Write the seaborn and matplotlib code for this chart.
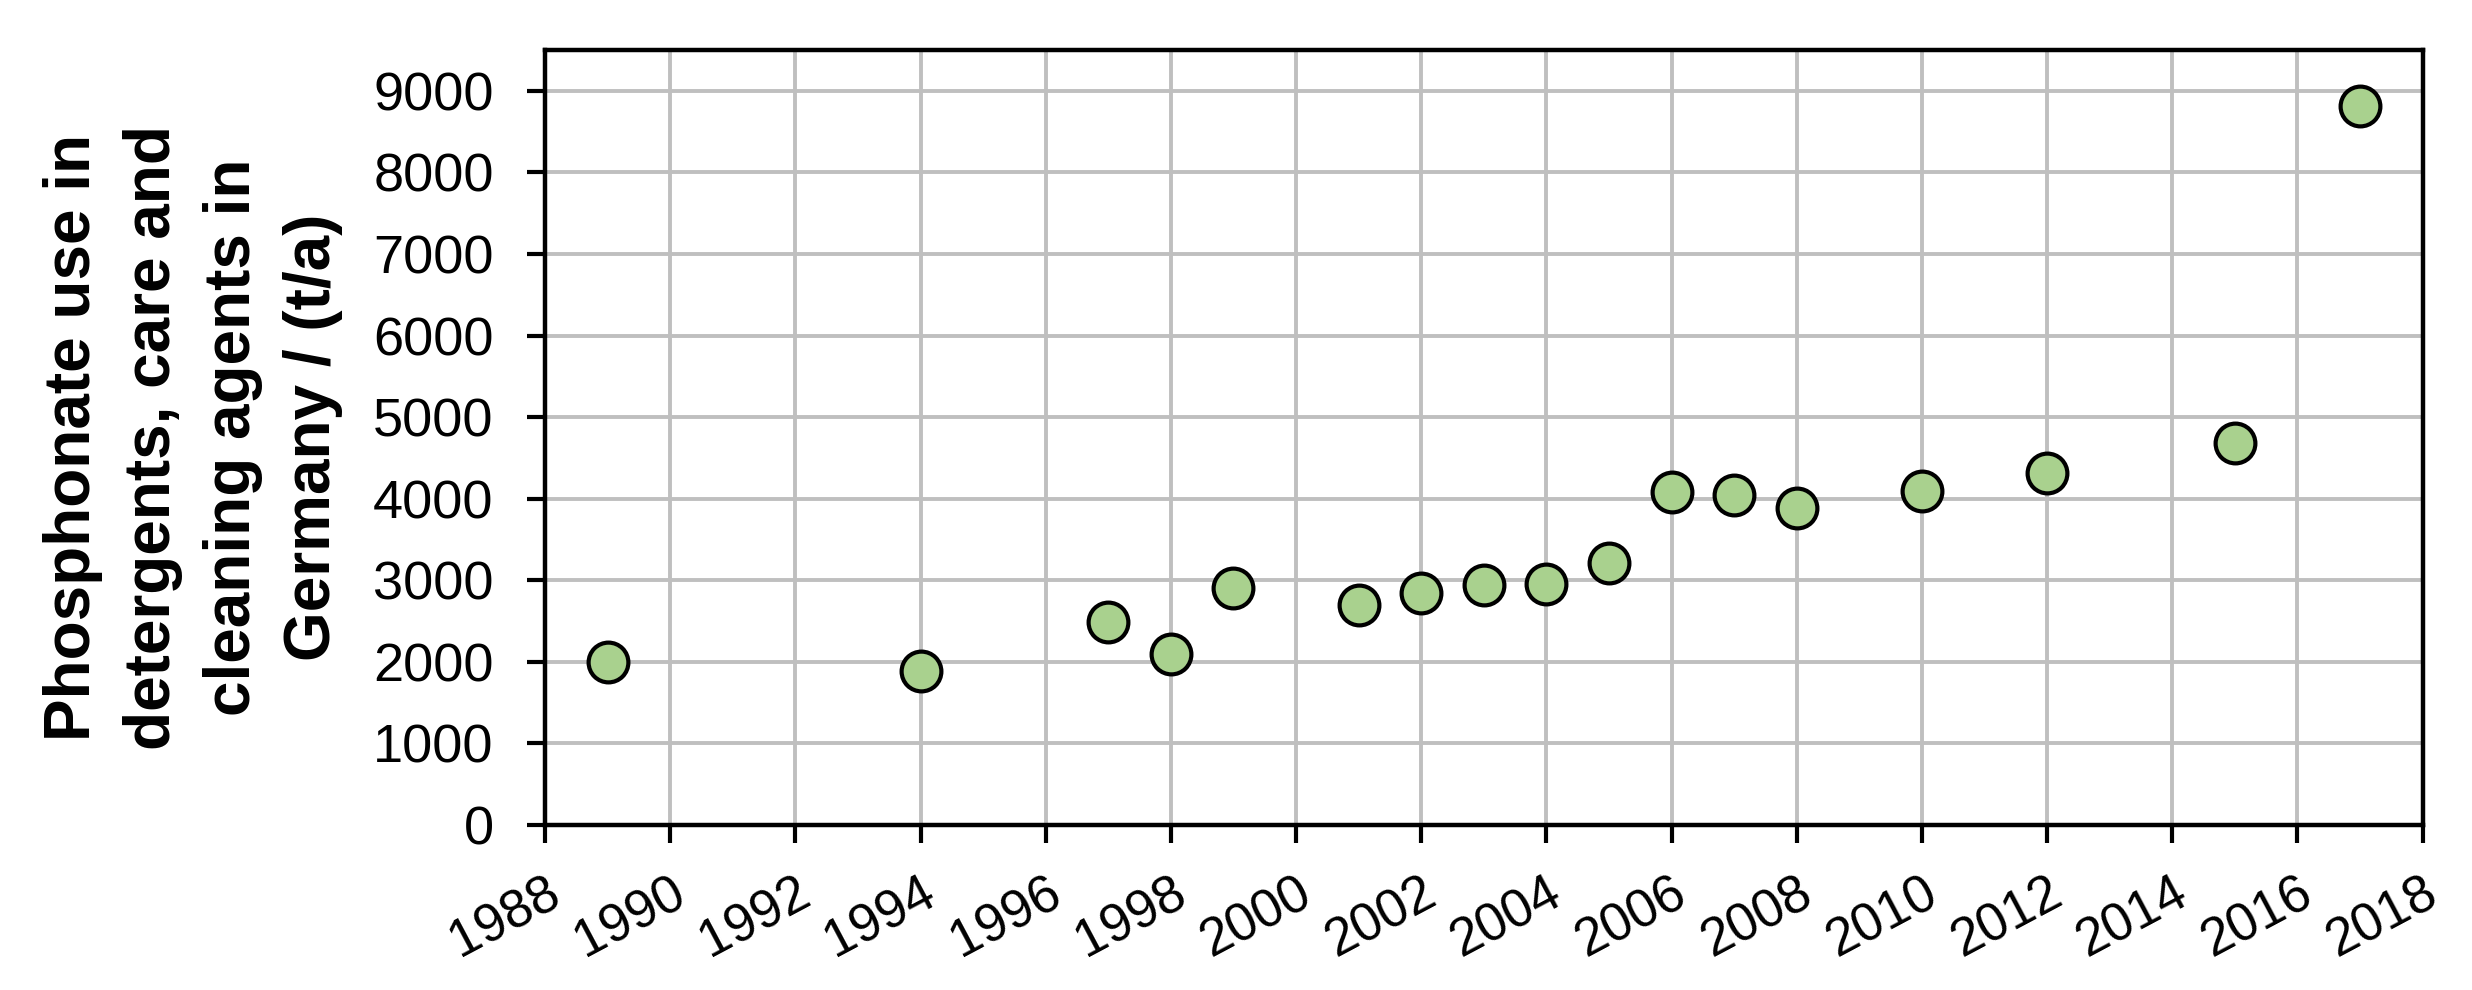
import pandas as pd
import matplotlib
matplotlib.use("Agg")
import matplotlib.pyplot as plt
import seaborn as sns

# ===================== Data =====================
years = [1989, 1994, 1997, 1998, 1999, 2001, 2002, 2003, 2004, 2005,
         2006, 2007, 2008, 2010, 2012, 2015, 2017]
usage = [2000, 1890, 2490, 2100, 2900, 2700, 2840, 2940, 2960, 3210,
         4080, 4040, 3880, 4100, 4320, 4680, 8810]
x_ticks = list(range(1988, 2019, 2))
y_ticks = list(range(0, 9001, 1000))
y_label = "Phosphonate use in\ndetergents, care and\ncleaning agents in\nGermany / (t/a)"

df = pd.DataFrame({"year": years, "usage": usage})

# ===================== Style =====================
sns.set_style("whitegrid")
plt.rcParams['font.family'] = ['Liberation Sans', 'DejaVu Sans']
plt.rcParams['text.color'] = 'black'
plt.rcParams['axes.labelcolor'] = 'black'
plt.rcParams['xtick.color'] = 'black'
plt.rcParams['ytick.color'] = 'black'

fig = plt.figure(figsize=(12.36, 4.95), dpi=200)
ax = fig.add_axes([0.2205, 0.1667, 0.7595, 0.7828])

sns.scatterplot(data=df, x="year", y="usage", ax=ax, s=205,
                color="#A9D18E", edgecolor="black", linewidth=1.5, zorder=3)

ax.set_xlim(1988, 2018)
ax.set_ylim(0, 9500)
ax.set_xticks(x_ticks)
ax.set_yticks(y_ticks)
ax.set_xticklabels([str(t) for t in x_ticks], rotation=28, ha="right",
                   rotation_mode="anchor", fontsize=19)
ax.set_yticklabels([str(t) for t in y_ticks], fontsize=19.5)

ax.grid(True, color="#BFBFBF", linewidth=1.4)
for sp in ax.spines.values():
    sp.set_color("black")
    sp.set_linewidth(1.6)
ax.tick_params(axis="both", which="major", direction="out", length=6.5,
               width=1.5, color="black", left=True, bottom=True)
ax.tick_params(axis="y", pad=12)
ax.tick_params(axis="x", pad=9)

ax.set_xlabel("")
ax.set_ylabel(y_label, fontsize=23, fontweight="bold", linespacing=1.42,
              labelpad=11)

fig.savefig("out.png", dpi=200)
